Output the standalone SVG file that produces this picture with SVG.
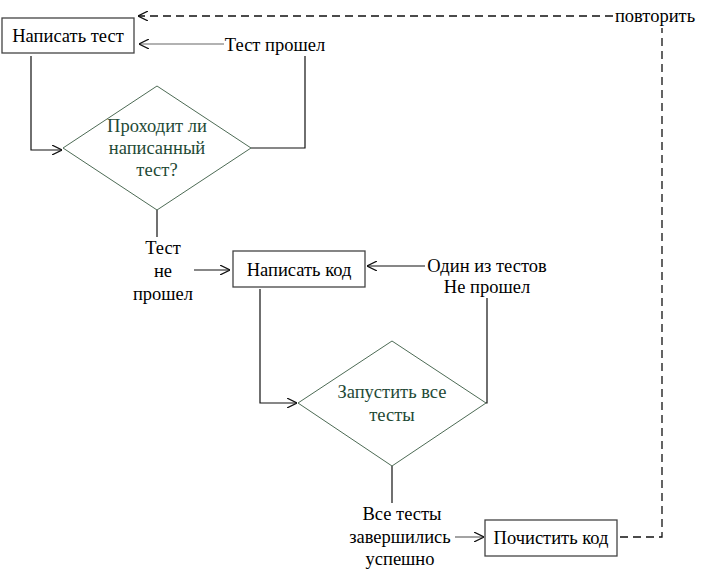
<svg xmlns="http://www.w3.org/2000/svg" width="707" height="579" viewBox="0 0 707 579">
<style>
text{font-family:"Liberation Serif","Times New Roman",serif;font-size:18.5px;fill:#000;text-anchor:middle;dominant-baseline:central}
.dt{fill:#1f4a36}
.box{fill:#fff;stroke:#444;stroke-width:1.3}
.dia{fill:#fff;stroke:#4d6b55;stroke-width:1}
.ln{fill:none;stroke:#111;stroke-width:1.2}
.gr{stroke:#666}
.da{fill:none;stroke:#111;stroke-width:1.3;stroke-dasharray:8,5}
</style>
<defs>
<marker id="ah" viewBox="0 0 10 10" refX="10" refY="5" markerWidth="10" markerHeight="10" markerUnits="userSpaceOnUse" orient="auto">
<path d="M0,0 L10,5 L0,10" fill="none" stroke="#111" stroke-width="1.2"/>
</marker>
</defs>
<g id="connectors">
<path class="ln" d="M31,56 V150 H62" marker-end="url(#ah)"/>
<path class="ln" d="M305,56 V148 H251"/>
<path class="ln gr" d="M224,44 H139" marker-end="url(#ah)"/>
<path class="ln" d="M157,210 V237"/>
<path class="ln" d="M194,270 H230" marker-end="url(#ah)"/>
<path class="ln" d="M425,266 H367" marker-end="url(#ah)"/>
<path class="ln" d="M487,298 V403 H486"/>
<path class="ln" d="M260,289 V403 H297" marker-end="url(#ah)"/>
<path class="ln" d="M392,466 V503"/>
<path class="ln gr" d="M455,537 H484" marker-end="url(#ah)"/>
<path class="da" d="M620,537 H662 V28"/>
<path class="da" d="M613,16 H138" marker-end="url(#ah)"/>
</g>
<g id="n1"><rect class="box" x="2" y="18" width="132" height="35"/><text x="68" y="36">Написать тест</text></g>
<g id="n2"><polygon class="dia" points="157,86 251,148 157,210 63,148"/><text class="dt" x="157" y="126">Проходит ли</text><text class="dt" x="157" y="148">написанный</text><text class="dt" x="157" y="170">тест?</text></g>
<g id="n3"><rect class="box" x="233" y="251" width="132" height="36"/><text x="299" y="270">Написать код</text></g>
<g id="n4"><polygon class="dia" points="392,341 486,403 392,466 298,403"/><text class="dt" x="392" y="392">Запустить все</text><text class="dt" x="392" y="415">тесты</text></g>
<g id="n5"><rect class="box" x="485" y="520" width="132" height="36"/><text x="551" y="538">Почистить код</text></g>
<g id="labels">
<text x="275" y="45">Тест прошел</text>
<text x="163" y="248">Тест</text>
<text x="163" y="271">не</text>
<text x="163" y="294">прошел</text>
<text x="487" y="266">Один из тестов</text>
<text x="487" y="287">Не прошел</text>
<text x="402" y="514">Все тесты</text>
<text x="400" y="537">завершились</text>
<text x="400" y="559">успешно</text>
<text x="655" y="16">повторить</text>
</g>
</svg>
